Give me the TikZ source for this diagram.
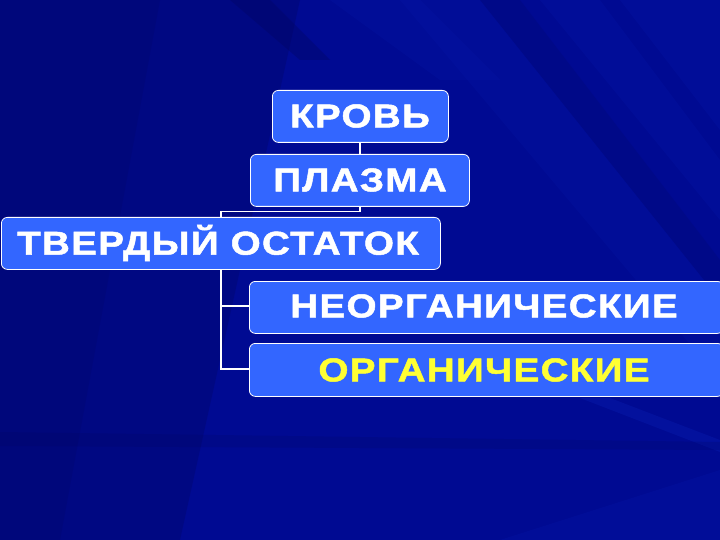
\documentclass[tikz,border=0pt]{standalone}
\usepackage{fontspec}
\setmainfont{Liberation Sans}[FakeStretch=1.17, LetterSpace=4, FakeBold=1.5]
\usetikzlibrary{calc}
\definecolor{bgblue}{HTML}{000A92}
\definecolor{bgdark}{HTML}{000560}
\definecolor{bglight}{HTML}{0A22B8}
\definecolor{boxblue}{HTML}{3366FF}
\definecolor{ytext}{HTML}{FFFF33}
\tikzset{
  boxnode/.style={draw=white, line width=0.8pt, fill=boxblue, rounded corners=6pt, anchor=north west, inner sep=0pt},
  lbl/.style={font=\bfseries\fontsize{33}{33}\selectfont, text=white},
  conn/.style={draw=white, line width=1.3pt}
}
\begin{document}
\begin{tikzpicture}[x=1pt,y=-1pt]
\useasboundingbox (0,0) rectangle (720,540);
% background
\fill[bgblue] (0,0) rectangle (720,540);
\fill[bgdark, opacity=0.3] (0,0) -- (300,0) -- (180,540) -- (0,540) -- cycle;
\fill[bgdark, opacity=0.2] (0,0) -- (160,0) -- (60,540) -- (0,540) -- cycle;
\fill[bgdark, opacity=0.35] (230,0) -- (270,0) -- (330,60) -- (300,60) -- cycle;
\fill[bglight, opacity=0.15] (330,0) -- (420,0) -- (500,80) -- (440,80) -- cycle;
\fill[bglight, opacity=0.14] (400,0) -- (480,0) -- (720,300) -- (720,380) -- cycle;
\fill[bgdark, opacity=0.18] (480,0) -- (520,0) -- (720,260) -- (720,300) -- cycle;
\fill[bglight, opacity=0.16] (540,0) -- (600,0) -- (720,160) -- (720,220) -- cycle;
\fill[bglight, opacity=0.16] (620,0) -- (720,0) -- (720,130) -- cycle;
\fill[bglight, opacity=0.3] (580,398) -- (610,398) -- (720,440) -- (720,452) -- cycle;
\fill[bgdark, opacity=0.2] (0,432) -- (720,442) -- (720,450) -- (0,446) -- cycle;
\fill[bglight, opacity=0.16] (500,540) -- (720,470) -- (720,540) -- cycle;
% boxes
\node[boxnode, minimum width=176pt, minimum height=52pt] (krov) at (272,90) {};
\node[boxnode, minimum width=219pt, minimum height=52pt] (plazma) at (250,154) {};
\node[boxnode, minimum width=439pt, minimum height=52pt] (tverd) at (1,217) {};
\node[boxnode, minimum width=474pt, minimum height=52pt] (neorg) at (249,281) {};
\node[boxnode, minimum width=474pt, minimum height=53pt] (org) at (249,343) {};
% connectors
\coordinate (j1) at (360,211.5);
\coordinate (j2) at (221,211.5);
\coordinate (j3) at (221,306);
\coordinate (j4) at (221,369);
\draw[conn] (krov.south -| j1) -- (plazma.north -| j1);
\draw[conn] (plazma.south -| j1) -- (j1) -- (j2) -- (tverd.north -| j2);
\draw[conn] (tverd.south -| j2) -- (j4) -- (org.west |- j4);
\draw[conn] (j3) -- (neorg.west |- j3);
% labels
\node[lbl] (tkrov) at (360,116) {КРОВЬ};
\node[lbl] (tplazma) at (360,180) {ПЛАЗМА};
\node[lbl] (ttverd) at (218,243) {ТВЕРДЫЙ ОСТАТОК};
\node[lbl] (tneorg) at (484,306) {НЕОРГАНИЧЕСКИЕ};
\node[lbl, text=ytext] (torg) at (484,370) {ОРГАНИЧЕСКИЕ};
\end{tikzpicture}
\end{document}
